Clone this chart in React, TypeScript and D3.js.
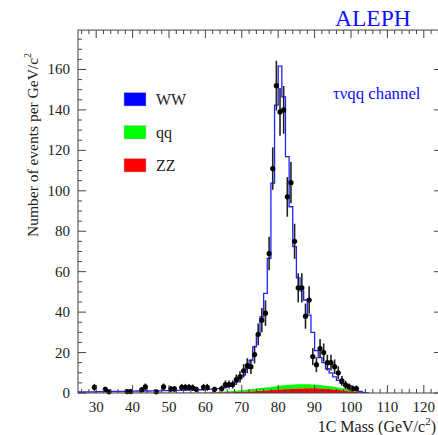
import React from "react";
import * as d3 from "d3";

// ---------- data ----------
const binStart = 25; // first bin lower edge (GeV/c^2), 1 GeV bins
// total expectation (WW + qq + ZZ), per bin from 25 to 104
const totalMC = [
  0.5, 0.5, 0.6, 0.6, 0.6, 0.7, 0.7, 0.7, 0.7, 0.8,
  0.8, 0.8, 0.8, 0.9, 0.9, 0.9, 1.0, 1.0, 1.0, 1.0,
  1.1, 1.1, 1.1, 1.2, 1.2, 1.2, 1.3, 1.3, 1.4, 1.4,
  1.5, 1.5, 1.6, 1.6, 1.7, 1.8, 1.9, 2.0, 2.2, 2.4,
  2.8, 3.4, 4.3, 5.4, 7.0, 8.8, 12.2, 16.2, 22.8, 28.6,
  37.6, 49.3, 66.6, 103.8, 142.4, 161.7, 146.5, 116.9, 92.1, 72.4,
  56.9, 50.5, 46.0, 38.5, 30.0, 21.0, 17.5, 15.0, 12.0, 10.0,
  8.0, 6.2, 4.8, 3.6, 2.6, 2.0, 1.4, 0.8, 0.3, 0,
];
const zzMC = [
  0.1, 0.1, 0.1, 0.1, 0.1, 0.1, 0.1, 0.1, 0.1, 0.1,
  0.1, 0.1, 0.1, 0.1, 0.1, 0.1, 0.1, 0.1, 0.1, 0.1,
  0.1, 0.1, 0.1, 0.1, 0.1, 0.1, 0.1, 0.1, 0.1, 0.1,
  0.1, 0.1, 0.1, 0.1, 0.1, 0.15, 0.2, 0.2, 0.25, 0.3,
  0.3, 0.35, 0.4, 0.45, 0.5, 0.6, 0.7, 0.8, 0.9, 1.0,
  1.1, 1.2, 1.3, 1.45, 1.6, 1.7, 1.8, 1.9, 2.0, 2.1,
  2.2, 2.2, 2.3, 2.3, 2.3, 2.3, 2.2, 2.1, 2.0, 1.9,
  1.7, 1.5, 1.3, 1.1, 0.9, 0.7, 0.5, 0.3, 0.1, 0,
];
const qqMC = [
  0, 0, 0, 0, 0, 0, 0, 0, 0, 0,
  0, 0, 0, 0, 0, 0, 0, 0, 0, 0,
  0, 0, 0, 0, 0, 0, 0, 0, 0, 0,
  0, 0, 0, 0, 0, 0.05, 0.1, 0.15, 0.2, 0.3,
  0.4, 0.5, 0.6, 0.7, 0.8, 0.9, 1.0, 1.1, 1.2, 1.3,
  1.4, 1.5, 1.6, 1.7, 1.8, 1.9, 2.0, 2.1, 2.1, 2.1,
  2.1, 2.1, 2.0, 2.0, 1.9, 1.8, 1.7, 1.6, 1.5, 1.4,
  1.3, 1.2, 1.1, 1.0, 0.8, 0.6, 0.4, 0.2, 0.1, 0,
];

const dataMass = [
  29.5, 32.5, 33.5, 38.5, 39.5, 42.5, 43.5, 46.5, 48.5, 50.5,
  51.5, 53.5, 54.5, 55.5, 56.5, 57.5, 59.5, 60.5, 62.5, 64.5,
  65.5, 66.5, 67.5, 68.5, 69.5, 70.5, 71.5, 72.5, 73.5, 74.5,
  75.5, 76.5, 77.5, 78.5, 79.5, 80.5, 81.5, 82.5, 83.5, 84.5,
  85.5, 86.5, 87.5, 88.5, 89.5, 90.5, 91.5, 92.5, 93.5, 94.5,
  95.5, 96.5, 97.5, 98.5, 99.5, 100.5, 101.5,
];
const dataValue = [
  2.8, 1.8, 0.6, 0.7, 0.7, 1.6, 3.0, 0.6, 3.0, 2.0,
  2.0, 2.8, 2.8, 2.8, 2.6, 1.8, 2.8, 2.8, 1.8, 2.2,
  4.2, 4.2, 4.2, 6.6, 8.0, 11.0, 13.5, 13.0, 19.0, 29.0,
  36.0, 39.5, 69.0, 111.0, 152.0, 139.0, 140.0, 97.0, 104.0, 75.0,
  52.0, 52.0, 38.0, 46.0, 18.0, 14.0, 22.0, 20.0, 15.0, 15.0,
  13.0, 10.0, 6.0, 4.0, 3.0, 2.2, 2.2,
];
const dataError = [
  1.7, 1.3, 0.8, 0.8, 0.8, 1.3, 1.7, 0.8, 1.7, 1.4,
  1.4, 1.7, 1.7, 1.7, 1.6, 1.3, 1.7, 1.7, 1.3, 1.5,
  2.0, 2.0, 2.0, 2.6, 2.8, 3.3, 3.7, 3.6, 4.4, 5.4,
  6.0, 6.3, 8.3, 10.5, 12.3, 11.8, 11.8, 9.8, 10.2, 8.7,
  7.2, 7.2, 6.2, 6.8, 4.2, 3.7, 4.7, 4.5, 3.9, 3.9,
  3.6, 3.2, 2.4, 2.0, 1.7, 1.5, 1.5,
];

const xTickValues = [30, 40, 50, 60, 70, 80, 90, 100, 110, 120];
const yTickValues = [0, 20, 40, 60, 80, 100, 120, 140, 160];
const legendLabels = ["WW", "qq", "ZZ"];
const legendColors = ["#0000ff", "#00ff00", "#ff0000"];

// ---------- layout ----------
const W = 438;
const H = 435;
const left = 78;
const right = 442;
const bottom = 393;
const xDomain: [number, number] = [25, 125];
const yDomain: [number, number] = [0, 179.5];
const serif = "'Liberation Serif', 'Times New Roman', serif";
const axisColor = "#444";

export default function App() {
  const x = d3.scaleLinear().domain(xDomain).range([left, right]);
  const y = d3.scaleLinear().domain(yDomain).range([bottom, bottom - 179.5 * 2.022]);
  const top = y(yDomain[1]);

  const edges = (arr: number[]) =>
    arr.map((v, i) => ({ m: binStart + i, v })).concat([{ m: binStart + arr.length, v: 0 }]);

  const zzPts = edges(zzMC);
  const stackPts = edges(zzMC.map((z, i) => z + qqMC[i]));
  const totPts = edges(totalMC);

  const areaZZ = d3
    .area<{ m: number; v: number }>()
    .x((d) => x(d.m))
    .y0(y(0))
    .y1((d) => y(d.v))
    .curve(d3.curveStepAfter);
  const areaQQ = d3
    .area<{ m: number; v: number }>()
    .x((d) => x(d.m))
    .y0((_, i) => y(zzPts[i].v))
    .y1((d) => y(d.v))
    .curve(d3.curveStepAfter);
  const lineTot = d3
    .line<{ m: number; v: number }>()
    .x((d) => x(d.m))
    .y((d) => y(d.v))
    .curve(d3.curveStepAfter);

  const xMinor = d3.range(26, 125, 2).filter((v) => v % 10 !== 0);
  const yMinor = d3.range(5, 180, 5).filter((v) => v % 20 !== 0);
  const majL = 8;
  const minL = 4;

  return (
    <svg
      width={W}
      height={H}
      style={{ position: "absolute", left: 0, top: 0, background: "#fff" }}
      fontFamily={serif}
    >
      <defs>
        <clipPath id="plotclip">
          <rect x={left} y={top} width={right - left} height={bottom - top} />
        </clipPath>
      </defs>

      {/* stacked backgrounds */}
      <g clipPath="url(#plotclip)">
        <path d={areaQQ(stackPts) || ""} fill="#00ff00" stroke="none" />
        <path d={areaZZ(zzPts) || ""} fill="#ff0000" stroke="none" />
        <path d={lineTot(totPts) || ""} fill="none" stroke="#2222ff" strokeWidth={1.3} />
      </g>

      {/* data points */}
      <g>
        {dataMass.map((m, i) => (
          <g key={i}>
            <line
              x1={x(m)}
              x2={x(m)}
              y1={y(Math.max(0, dataValue[i] - dataError[i]))}
              y2={y(dataValue[i] + dataError[i])}
              stroke="#222"
              strokeWidth={1.6}
            />
            <circle cx={x(m)} cy={y(dataValue[i])} r={2.6} fill="#000" />
          </g>
        ))}
      </g>

      {/* frame */}
      <rect
        x={left}
        y={top}
        width={right - left}
        height={bottom - top}
        fill="none"
        stroke={axisColor}
        strokeWidth={1}
      />

      {/* x ticks bottom & top */}
      {xTickValues.map((t) => (
        <g key={"xt" + t}>
          <line x1={x(t)} x2={x(t)} y1={bottom} y2={bottom - majL} stroke={axisColor} />
          <line x1={x(t)} x2={x(t)} y1={top} y2={top + majL} stroke={axisColor} />
          <text x={x(t)} y={412} fontSize={15} textAnchor="middle" fill="#222">
            {t}
          </text>
        </g>
      ))}
      {xMinor.map((t) => (
        <g key={"xm" + t}>
          <line x1={x(t)} x2={x(t)} y1={bottom} y2={bottom - minL} stroke={axisColor} />
          <line x1={x(t)} x2={x(t)} y1={top} y2={top + minL} stroke={axisColor} />
        </g>
      ))}

      {/* y ticks left & right */}
      {yTickValues.map((t) => (
        <g key={"yt" + t}>
          <line x1={left} x2={left + majL} y1={y(t)} y2={y(t)} stroke={axisColor} />
          <line x1={right} x2={right - majL} y1={y(t)} y2={y(t)} stroke={axisColor} />
          <text x={70} y={y(t) + 5} fontSize={15} textAnchor="end" fill="#222">
            {t}
          </text>
        </g>
      ))}
      {yMinor.map((t) => (
        <g key={"ym" + t}>
          <line x1={left} x2={left + minL} y1={y(t)} y2={y(t)} stroke={axisColor} />
          <line x1={right} x2={right - minL} y1={y(t)} y2={y(t)} stroke={axisColor} />
        </g>
      ))}

      {/* axis titles */}
      <text
        transform={`translate(38,237) rotate(-90)`}
        fontSize={15.5}
        fill="#222"
        textAnchor="start"
      >
        Number of events per GeV/c
        <tspan dy={-7} fontSize={10}>
          2
        </tspan>
      </text>
      <text x={436} y={432} fontSize={16} fill="#222" textAnchor="end">
        1C Mass (GeV/c
        <tspan dy={-7} fontSize={11}>
          2
        </tspan>
        <tspan dy={7}>)</tspan>
      </text>

      {/* titles */}
      <text x={335} y={26} fontSize={23.5} fill="#1010ff">
        ALEPH
      </text>
      <text x={333} y={99} fontSize={16.8} fill="#1010ff">
        τνqq channel
      </text>

      {/* legend */}
      {legendLabels.map((lab, i) => (
        <g key={lab}>
          <rect
            x={124}
            y={92.5 + i * 33}
            width={22}
            height={13.5}
            fill={legendColors[i]}
            stroke="#bbb"
            strokeWidth={0.5}
          />
          <text x={156} y={104.5 + i * 33} fontSize={16} fill="#222">
            {lab}
          </text>
        </g>
      ))}
    </svg>
  );
}
